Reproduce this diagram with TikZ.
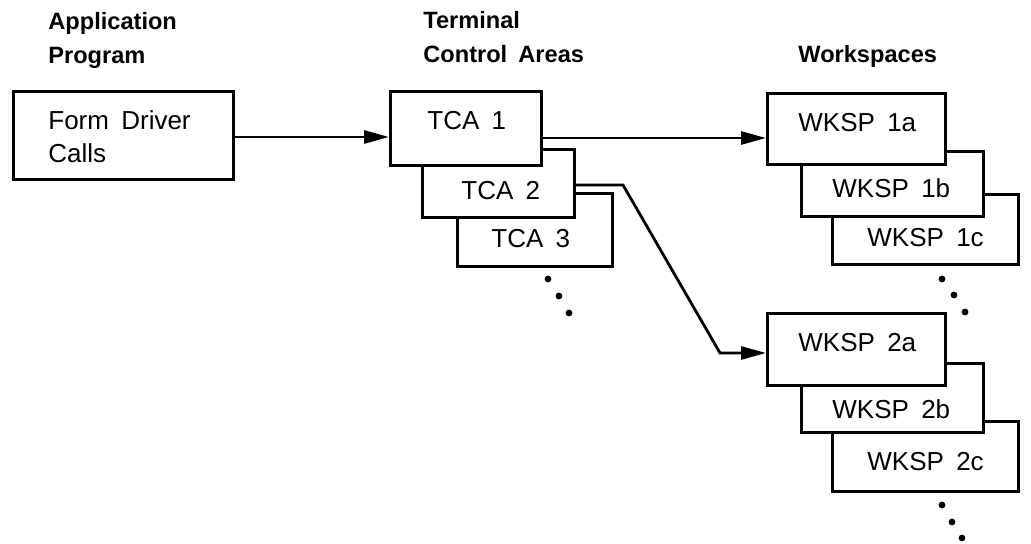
\documentclass[tikz,border=0pt]{standalone}
\usepackage{fontspec}
\setmainfont{Liberation Sans}[WordSpace=1.7]
\usetikzlibrary{arrows.meta}

\begin{document}
\begin{tikzpicture}[x=0.5pt, y=-0.5pt, >={Triangle[length=12.5pt,width=6.5pt]},
        area/.style={draw, line width=1.6pt, fill=white, inner sep=0pt, anchor=north west},
        txt/.style={anchor=base west, inner sep=0pt, align=left, font=\fontsize{13}{16.5}\selectfont},
        head/.style={anchor=base west, inner sep=0pt, align=left, font=\fontsize{11.8}{17}\selectfont\bfseries},
        flow/.style={line width=1.4pt, ->}]
        \useasboundingbox (0,0) rectangle (1031,544);

        % Column headings (base = last line)
        \node[head] (hprog) at (48,64) {Application\\Program};
        \node[head] (htca) at (423,63) {Terminal\\Control Areas};
        \node[head] (hwksp) at (798,63) {Workspaces};

        % Application program
        \node[area, minimum width=110pt, minimum height=44pt] (fd) at (12,90) {};
        \node[txt] (fdtx) at (48,163) {Form Driver\\Calls};

        % Terminal control areas, back to front
        \node[area, minimum width=77.5pt, minimum height=36.5pt] (tca3) at (456,192) {};
        \node[area, minimum width=76pt, minimum height=34pt] (tca2) at (421,148) {};
        \node[area, minimum width=75.5pt, minimum height=37pt] (tca1) at (389,90) {};
        \node[txt] (tca1tx) at (427,130) {TCA 1};
        \node[txt] (tca2tx) at (461,200) {TCA 2};
        \node[txt] (tca3tx) at (491,248) {TCA 3};

        % Workspaces of TCA 1
        \node[area, minimum width=93pt, minimum height=35pt] (wk1c) at (831,193) {};
        \node[area, minimum width=91pt, minimum height=32.5pt] (wk1b) at (800,150) {};
        \node[area, minimum width=89pt, minimum height=35.5pt] (wk1a) at (766,92) {};
        \node[txt] (wk1atx) at (798,132) {WKSP 1a};
        \node[txt] (wk1btx) at (832,198) {WKSP 1b};
        \node[txt] (wk1ctx) at (867,247) {WKSP 1c};

        % Workspaces of TCA 2
        \node[area, minimum width=93pt, minimum height=35pt] (wk2c) at (831,420) {};
        \node[area, minimum width=91pt, minimum height=34.5pt] (wk2b) at (800,362) {};
        \node[area, minimum width=89pt, minimum height=36pt] (wk2a) at (766,312) {};
        \node[txt] (wk2atx) at (798,352) {WKSP 2a};
        \node[txt] (wk2btx) at (832,418) {WKSP 2b};
        \node[txt] (wk2ctx) at (867,470) {WKSP 2c};

        % Continuation dots
        \foreach \x/\y in {548/279, 559/296, 569/313, 942/279, 954/295, 965/312, 942/505, 952/522, 962/538}
            \fill (\x,\y) circle (1.7pt);

        % Connectors
        \coordinate (bendA) at (623,185);
        \coordinate (bendB) at (720,353);
        \draw[flow] (fd.east |- 0,137) -- (tca1.west |- 0,137);
        \draw[flow] (tca1.east |- 0,138) -- (wk1a.west |- 0,138);
        \draw[flow] (tca2.east |- bendA) -- (bendA) -- (bendB) -- (wk2a.west |- bendB);
    \end{tikzpicture}
\end{document}
